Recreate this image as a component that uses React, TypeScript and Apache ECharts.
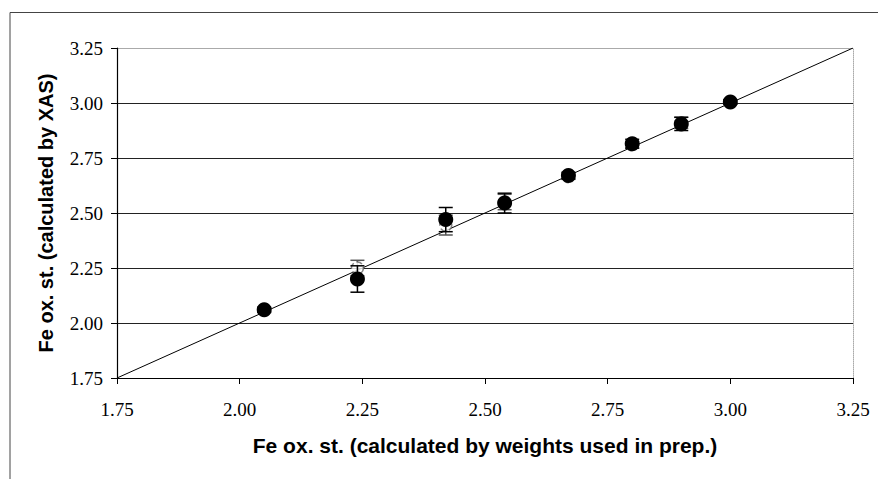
import React, { useEffect, useRef } from "react";
import * as echarts from "echarts";

const xValues = [2.05, 2.24, 2.42, 2.54, 2.67, 2.8, 2.9, 3.0];
const filledY = [2.06, 2.2, 2.47, 2.545, 2.67, 2.815, 2.905, 3.005];
const filledErr = [0.012, 0.06, 0.055, 0.045, 0.015, 0.02, 0.03, 0.01];
const hollowY = [2.06, 2.25, 2.445, 2.55, 2.665, 2.81, 2.91, 3.005];
const hollowErr = [0.01, 0.035, 0.045, 0.035, 0.012, 0.015, 0.025, 0.01];
const axisTicks = [1.75, 2.0, 2.25, 2.5, 2.75, 3.0, 3.25];
const identityLine = [
  [1.75, 1.75],
  [3.25, 3.25],
];
const xTitle = "Fe ox. st. (calculated by weights used in prep.)";
const yTitle = "Fe ox. st. (calculated by XAS)";

function errorBars(ys: number[], errs: number[]) {
  return xValues.map((x, i) => [x, ys[i] - errs[i], ys[i] + errs[i]]);
}

export default function App() {
  const ref = useRef<HTMLDivElement>(null);
  useEffect(() => {
    if (!ref.current) return;
    const chart = echarts.init(ref.current, undefined, { renderer: "svg" });
    const renderErr = (color: string) => (params: any, api: any) => {
      const x = api.value(0);
      const p1 = api.coord([x, api.value(1)]);
      const p2 = api.coord([x, api.value(2)]);
      const w = 7;
      const style = { stroke: color, lineWidth: 1.5 };
      return {
        type: "group",
        children: [
          { type: "line", shape: { x1: p1[0], y1: p1[1], x2: p2[0], y2: p2[1] }, style },
          { type: "line", shape: { x1: p1[0] - w, y1: p1[1], x2: p1[0] + w, y2: p1[1] }, style },
          { type: "line", shape: { x1: p2[0] - w, y1: p2[1], x2: p2[0] + w, y2: p2[1] }, style },
        ],
      };
    };
    const labelStyle = {
      fontFamily: "'Liberation Serif', 'DejaVu Serif', serif",
      fontSize: 19,
      color: "#000",
      formatter: (v: number) => v.toFixed(2),
    };
    chart.setOption({
      animation: false,
      backgroundColor: "#fff",
      grid: { left: 117, top: 48, width: 736, height: 330, containLabel: false },
      graphic: [
        {
          type: "rect",
          shape: { x: 10, y: 12.5, width: 900, height: 500 },
          style: { fill: "none", stroke: "#444", lineWidth: 1 },
          z: 0,
        },
      ],
      xAxis: {
        type: "value",
        min: axisTicks[0],
        max: axisTicks[axisTicks.length - 1],
        interval: 0.25,
        name: xTitle,
        nameLocation: "middle",
        nameGap: 57,
        nameTextStyle: { fontFamily: "'Liberation Sans', Arial, sans-serif", fontWeight: "bold", fontSize: 21, color: "#000" },
        axisLine: { lineStyle: { color: "#000", width: 1.2 } },
        axisTick: { show: true, inside: false, length: 6, lineStyle: { color: "#000" } },
        axisLabel: { ...labelStyle, margin: 22 },
        splitLine: { show: false },
      },
      yAxis: [
        {
          type: "value",
          min: axisTicks[0],
          max: axisTicks[axisTicks.length - 1],
          interval: 0.25,
          name: yTitle,
          nameLocation: "middle",
          nameGap: 61,
          nameRotate: 90,
          nameTextStyle: { fontFamily: "'Liberation Sans', Arial, sans-serif", fontWeight: "bold", fontSize: 20, color: "#000" },
          axisLine: { show: true, lineStyle: { color: "#000", width: 1.2 } },
          axisTick: { show: true, inside: false, length: 6, lineStyle: { color: "#000" } },
          axisLabel: { ...labelStyle, margin: 14 },
          splitLine: {
            show: true,
            lineStyle: {
              color: ["#222", "#222", "#222", "#222", "#222", "#222", "#aaa"],
              width: 1.2,
            },
          },
        },
        {
          type: "value",
          position: "right",
          min: axisTicks[0],
          max: axisTicks[axisTicks.length - 1],
          interval: 0.25,
          axisLine: { show: true, lineStyle: { color: "#aaa", type: "dotted", width: 1 } },
          axisTick: { show: false },
          axisLabel: { show: false },
          splitLine: { show: false },
        },
      ],
      series: [
        {
          type: "line",
          data: identityLine,
          showSymbol: false,
          lineStyle: { color: "#000", width: 1 },
          z: 2,
        },
        {
          type: "custom",
          data: errorBars(hollowY, hollowErr),
          encode: { x: 0, y: [1, 2] },
          renderItem: renderErr("#555"),
          z: 3,
        },
        {
          type: "scatter",
          data: xValues.map((x, i) => [x, hollowY[i]]),
          symbol: "circle",
          symbolSize: 12,
          itemStyle: { color: "#fff", borderColor: "#666", borderWidth: 1.5, borderType: "dashed" },
          z: 4,
        },
        {
          type: "custom",
          data: errorBars(filledY, filledErr),
          encode: { x: 0, y: [1, 2] },
          renderItem: renderErr("#000"),
          z: 5,
        },
        {
          type: "scatter",
          data: xValues.map((x, i) => [x, filledY[i]]),
          symbol: "circle",
          symbolSize: 15,
          itemStyle: { color: "#000", opacity: 1 },
          z: 6,
        },
      ],
    });
    return () => chart.dispose();
  }, []);
  return (
    <div
      ref={ref}
      style={{ position: "fixed", left: 0, top: 0, width: 878, height: 479, background: "#fff" }}
    />
  );
}
